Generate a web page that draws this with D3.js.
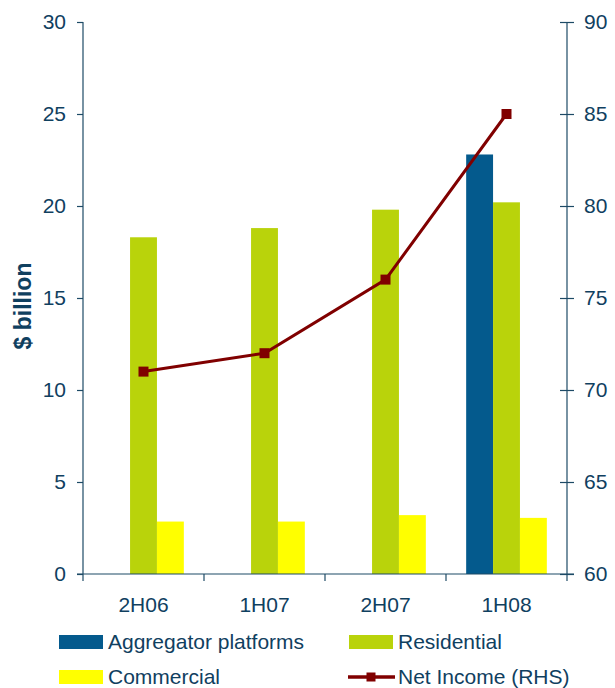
<!DOCTYPE html>
<html>
<head>
<meta charset="utf-8">
<script src="https://cdn.jsdelivr.net/npm/d3@7/dist/d3.min.js"></script>
<style>
  html, body { margin: 0; padding: 0; background: #fff; }
  svg { display: block; font-family: "Liberation Sans", Arial, sans-serif; }
</style>
</head>
<body>
<svg id="chart" width="615" height="688"></svg>
<script>
// Half-year periods on the x axis
const periods = ["2H06", "1H07", "2H07", "1H08"];

// Bar series ($ billion, left axis)
const aggregator  = [null, null, null, 22.8];
const residential = [18.3, 18.8, 19.8, 20.2];
const commercial  = [2.85, 2.85, 3.2, 3.05];

// Line series (right axis)
const netIncome = [71, 72, 76, 85];

const leftTicks  = [0, 5, 10, 15, 20, 25, 30];
const rightTicks = [60, 65, 70, 75, 80, 85, 90];

const seriesNames = ["Aggregator platforms", "Residential", "Commercial"];
const seriesColors = ["#045a8d", "#b9d30b", "#ffff00"];
const textColor = "#10405f";
const axisColor = "#1d4a66";
const lineColor = "#800000";
const fontSize = "21px";

const svg = d3.select("#chart");
const m = { left: 83, right: 567, top: 22, bottom: 574 };

const x = d3.scaleBand().domain(periods).range([m.left, m.right]);
const xs = d3.scaleBand().domain(seriesNames).range([0, x.bandwidth()]).paddingOuter(0.75).paddingInner(0);
const yL = d3.scaleLinear().domain([0, 30]).range([m.bottom, m.top]);
const yR = d3.scaleLinear().domain([60, 90]).range([m.bottom, m.top]);

// Bars
const barData = [aggregator, residential, commercial];
periods.forEach((p, i) => {
  barData.forEach((arr, s) => {
    const v = arr[i];
    if (v == null) return;
    svg.append("rect")
      .attr("x", x(p) + xs(seriesNames[s]))
      .attr("y", yL(v))
      .attr("width", xs.bandwidth())
      .attr("height", yL(0) - yL(v))
      .attr("fill", seriesColors[s]);
  });
});

// Axes
const leftAxis = svg.append("g").attr("transform", `translate(${m.left},0)`)
  .call(d3.axisLeft(yL).tickValues(leftTicks).tickSize(6).tickPadding(11));
const rightAxis = svg.append("g").attr("transform", `translate(${m.right},0)`)
  .call(d3.axisRight(yR).tickValues(rightTicks).tickSize(7).tickPadding(10));
rightAxis.selectAll(".tick line").attr("x1", -7);
const bottomAxis = svg.append("g").attr("transform", `translate(0,${m.bottom})`)
  .call(d3.axisBottom(x).tickSize(0).tickPadding(23));

// Category boundary ticks
svg.append("g").selectAll("line")
  .data(periods.map(p => x(p)).concat([m.right]))
  .join("line")
  .attr("x1", d => d).attr("x2", d => d)
  .attr("y1", m.bottom).attr("y2", m.bottom + 7)
  .attr("stroke", axisColor).attr("stroke-width", 1.2);

[leftAxis, rightAxis, bottomAxis].forEach(g => {
  g.select(".domain").attr("stroke", axisColor).attr("stroke-width", 1.2);
  g.selectAll(".tick line").attr("stroke", axisColor).attr("stroke-width", 1.2);
  g.selectAll("text").attr("fill", textColor).style("font-size", fontSize);
});
leftAxis.select(".domain").attr("d", `M0,${m.top}V${m.bottom}`);
rightAxis.select(".domain").attr("d", `M0,${m.top}V${m.bottom}`);
bottomAxis.select(".domain").attr("d", `M${m.left - 6},0H${m.right + 7}`);

// Y axis title
svg.append("text")
  .attr("transform", `translate(31,306) rotate(-90)`)
  .attr("text-anchor", "middle")
  .attr("fill", textColor)
  .style("font-size", "23px").style("font-weight", "bold")
  .text("$ billion");

// Net income line
const line = d3.line().x((d, i) => x(periods[i]) + x.bandwidth() / 2).y(d => yR(d));
svg.append("path").datum(netIncome)
  .attr("d", line).attr("fill", "none")
  .attr("stroke", lineColor).attr("stroke-width", 3);
svg.append("g").selectAll("rect").data(netIncome).join("rect")
  .attr("x", (d, i) => x(periods[i]) + x.bandwidth() / 2 - 5)
  .attr("y", d => yR(d) - 5)
  .attr("width", 10).attr("height", 10)
  .attr("fill", lineColor);

// Legend
const legendItems = [
  { name: "Aggregator platforms", type: "rect", color: seriesColors[0], x: 59, y: 642 },
  { name: "Residential", type: "rect", color: seriesColors[1], x: 349, y: 642 },
  { name: "Commercial", type: "rect", color: seriesColors[2], x: 59, y: 677 },
  { name: "Net Income (RHS)", type: "line", color: lineColor, x: 349, y: 677 }
];
const lg = svg.append("g");
legendItems.forEach(it => {
  if (it.type === "rect") {
    lg.append("rect").attr("x", it.x).attr("y", it.y - 7).attr("width", 44).attr("height", 14).attr("fill", it.color);
  } else {
    lg.append("line").attr("x1", it.x - 1).attr("x2", it.x + 46).attr("y1", it.y).attr("y2", it.y)
      .attr("stroke", it.color).attr("stroke-width", 3.5);
    lg.append("rect").attr("x", it.x + 22 - 4.5).attr("y", it.y - 4.5).attr("width", 9).attr("height", 9).attr("fill", it.color);
  }
  lg.append("text").attr("x", it.x + 49).attr("y", it.y).attr("dy", "0.35em")
    .attr("fill", textColor).style("font-size", fontSize).text(it.name);
});
</script>
</body>
</html>
